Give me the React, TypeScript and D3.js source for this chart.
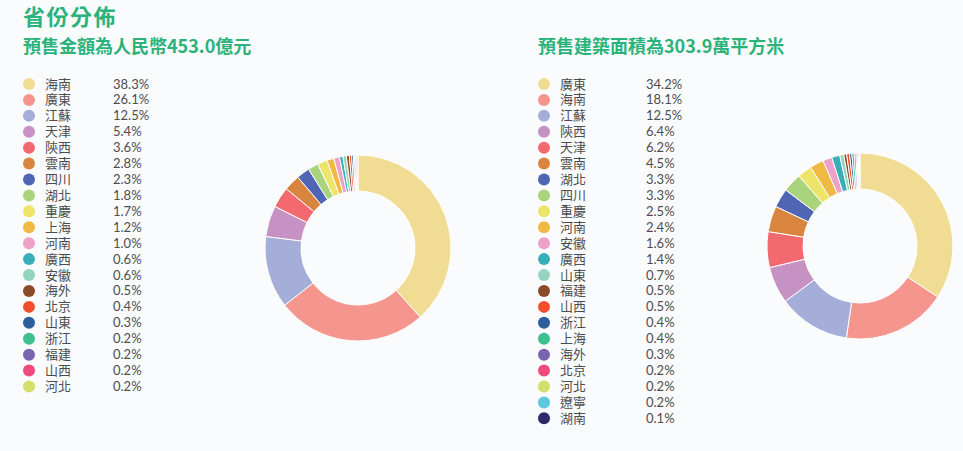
import React, { useMemo } from 'react'
import * as d3 from 'd3'

const palette = [
    '#f0dc93', '#f4958e', '#a5aed8', '#c592c3', '#f2696f', '#d9853f', '#5066b4', '#a9d47b',
    '#ede46a', '#efb942', '#efa0c9', '#38aeb8', '#94d5bf', '#8b4a2a', '#f24e2b', '#2b5e9a',
    '#3dbf8f', '#7a64b0', '#ef4a7c', '#d2e06a', '#5cc8dc', '#302a6b'
]

const salesNames = ['海南', '廣東', '江蘇', '天津', '陝西', '雲南', '四川', '湖北', '重慶', '上海',
    '河南', '廣西', '安徽', '海外', '北京', '山東', '浙江', '福建', '山西', '河北']
const salesValues = [38.3, 26.1, 12.5, 5.4, 3.6, 2.8, 2.3, 1.8, 1.7, 1.2,
    1.0, 0.6, 0.6, 0.5, 0.4, 0.3, 0.2, 0.2, 0.2, 0.2]

const areaNames = ['廣東', '海南', '江蘇', '陝西', '天津', '雲南', '湖北', '四川', '重慶', '河南',
    '安徽', '廣西', '山東', '福建', '山西', '浙江', '上海', '海外', '北京', '河北', '遼寧', '湖南']
const areaValues = [34.2, 18.1, 12.5, 6.4, 6.2, 4.5, 3.3, 3.3, 2.5, 2.4,
    1.6, 1.4, 0.7, 0.5, 0.5, 0.4, 0.4, 0.3, 0.2, 0.2, 0.2, 0.1]

const GREEN = '#2bb37b'
const FONT = '"Noto Sans CJK TC", "Noto Sans", sans-serif'
const LEGEND_FONT = 'Lato, "Noto Sans CJK TC", sans-serif'

interface IPanelProps {
    x: number,
    title: string,
    names: string[],
    values: number[],
    cx: number,
    cy: number,
    pctX: number
}

const Panel = ({ x, title, names, values, cx, cy, pctX }: IPanelProps) => {
    const arcs = useMemo(() => (
        d3.pie<number>().sort(null).value(d => d)(values)
    ), [values])

    const arc = useMemo(() => (
        d3.arc<d3.PieArcDatum<number>>().innerRadius(57).outerRadius(93)
    ), [])

    const rowY = d3.scaleLinear().domain([0, 1]).range([84, 84 + 15.92])

    return (
        <g>
            <text x={x} y={53} fill={GREEN} fontSize={18} fontWeight="bold" fontFamily={FONT}>{title}</text>
            {names.map((n, i) => (
                <g key={n} transform={`translate(0 ${rowY(i)})`}>
                    <circle cx={x + 6} cy={0} r={6} fill={palette[i]} />
                    <text x={x + 22} y={4.5} fontSize={13} fill="#4d4d4d" fontFamily={LEGEND_FONT}>{n}</text>
                    <text x={pctX} y={4.5} fontSize={13} fill="#4d4d4d" fontFamily={LEGEND_FONT}>{values[i].toFixed(1)}%</text>
                </g>
            ))}
            <g transform={`translate(${cx} ${cy})`}>
                {arcs.map((a, i) => (
                    <path key={i} d={arc(a) || ''} fill={palette[i]} stroke="#fff" strokeWidth={1} />
                ))}
            </g>
        </g>
    )
}

export default function App() {
    return (
        <svg width={963} height={451} style={{ position: 'absolute', left: 0, top: 0, background: '#f9fbfd' }}>
            <text x={23} y={25} fill={GREEN} fontSize={22} letterSpacing={1.5} fontWeight="bold" fontFamily={FONT}>省份分佈</text>
            <Panel x={23} title="預售金額為人民幣453.0億元" names={salesNames} values={salesValues}
                cx={358} cy={248} pctX={113} />
            <Panel x={538} title="預售建築面積為303.9萬平方米" names={areaNames} values={areaValues}
                cx={860} cy={246} pctX={646} />
        </svg>
    )
}
